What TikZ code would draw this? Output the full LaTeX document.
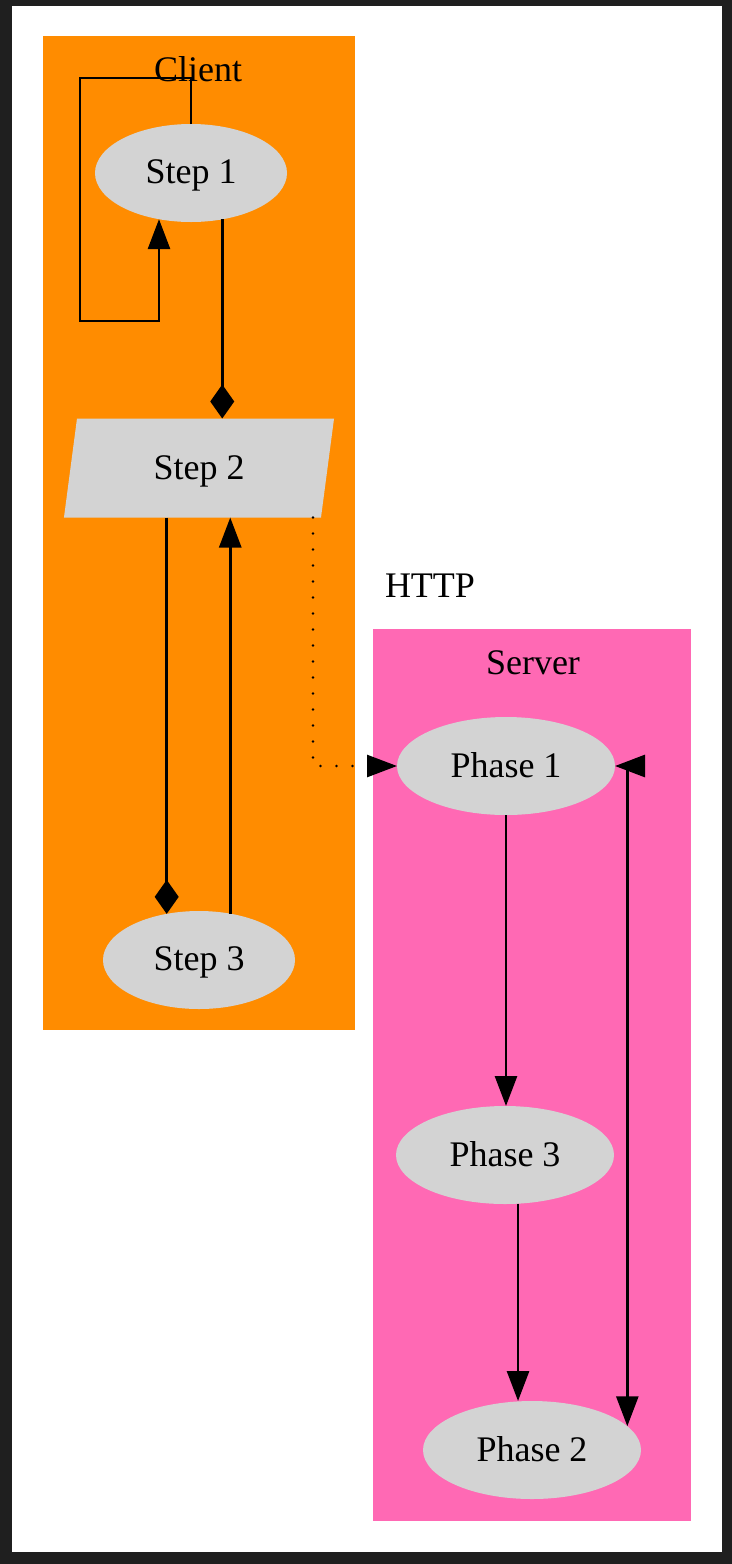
\documentclass[tikz,border=0pt]{standalone}
\usepackage{fontspec}
\setmainfont{Liberation Serif}
\usetikzlibrary{arrows.meta,shapes.geometric,positioning}
\definecolor{framegray}{HTML}{1F1F1F}
\definecolor{clientorange}{HTML}{FF8C00}
\definecolor{serverpink}{HTML}{FF69B4}
\definecolor{nodegray}{HTML}{D3D3D3}

\begin{document}
\begin{tikzpicture}[x=0.5pt,y=-0.5pt,font=\fontsize{18}{22}\selectfont,
    oval/.style={ellipse,fill=nodegray,inner sep=0pt,outer sep=0pt,minimum height=49pt,
      text depth=1pt},
    slanted/.style={trapezium,trapezium left angle=82.5,trapezium right angle=97.5,
      fill=nodegray,outer sep=0pt,text height=12pt,text depth=1pt,
      inner xsep=38.25pt,inner ysep=18.25pt},
    link/.style={line width=1.4pt},
    tri/.tip={Triangle[length=15pt,width=11pt]},
    dia/.tip={Diamond[length=17pt,width=12pt]}]
    \fill[framegray] (0,0) rectangle (732,1564);
    \fill[white] (12,6) rectangle (722,1552);
    \fill[clientorange] (43,36) rectangle (355,1030);
    \fill[serverpink] (373,629) rectangle (691,1521);
    \node[anchor=base] (client) at (198,81) {Client};
    \node[anchor=base] (server) at (533,674) {Server};
    \node[anchor=base] (http) at (430,597) {HTTP};
    \node[oval,minimum width=96pt] (s1) at (191,173) {Step 1};
    \node[slanted] (s2) at (199,468) {Step 2};
    \node[oval,minimum width=96pt] (s3) at (199,960) {Step 3};
    \node[oval,minimum width=109pt] (p1) at (506,766) {Phase 1};
    \node[oval,minimum width=109pt] (p3) at (505,1155) {Phase 3};
    \node[oval,minimum width=109pt] (p2) at (532,1450) {Phase 2};
    \coordinate (loopa) at (80,78);
    \coordinate (loopb) at (159,321);
    \coordinate (bend) at (313,766);
    \draw[link,-tri] (s1.north) |- (loopa) |- (loopb) -- (loopb |- s1.235);
    \draw[link,-dia] (s1.-56) -- (s1.-56 |- s2.north);
    \draw[link,-dia] (s3.125 |- s2.south) -- (s3.125);
    \draw[link,-tri] (s3.56) -- (s3.56 |- s2.south);
    \draw[line width=1.3pt,line cap=round,dash pattern=on 0pt off 8pt,-tri] (bend |- s2.south) -- (bend) -- (p1.west);
    \draw[link,-tri] (p1.south) -- (p1.south |- p3.north);
    \draw[link,-tri] (p3.-75) -- (p3.-75 |- p2.north);
    \draw[link,tri-tri] (p1.east) -- (p1.east -| p2.14) -- (p2.14);
\end{tikzpicture}
\end{document}
